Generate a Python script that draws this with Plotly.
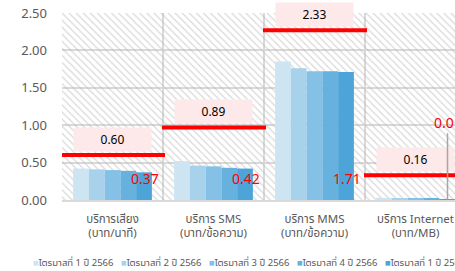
import plotly.graph_objects as go

categories = ["บริการเสียง<br>(บาท/นาที)", "บริการ SMS<br>(บาท/ข้อความ)",
              "บริการ MMS<br>(บาท/ข้อความ)", "บริการ Internet<br>(บาท/MB)"]
series_names = ["ไตรมาสที่ 1 ปี 2566", "ไตรมาสที่ 2 ปี 2566", "ไตรมาสที่ 3 ปี 2566",
                "ไตรมาสที่ 4 ปี 2566", "ไตรมาสที่ 1 ปี 2567"]
q1_2566 = [0.42, 0.52, 1.85, 0.03]
q2_2566 = [0.41, 0.46, 1.76, 0.02]
q3_2566 = [0.40, 0.45, 1.72, 0.02]
q4_2566 = [0.39, 0.43, 1.72, 0.02]
q1_2567 = [0.37, 0.42, 1.71, 0.01]
series_values = [q1_2566, q2_2566, q3_2566, q4_2566, q1_2567]
series_colors = ["#cde5f3", "#a8d1eb", "#85c1e6", "#66b1de", "#4ca4d8"]

ceiling_labels = [0.60, 0.89, 2.33, 0.16]
ceiling_lines = [0.60, 0.97, 2.27, 0.33]
y_ticks = [0, 0.5, 1.0, 1.5, 2.0, 2.5]
y_max = 2.5

font_family = "Noto Sans, Noto Sans Thai, Tahoma, sans-serif"
grey = "#595959"
xpos = list(range(len(categories)))
xrange = [-0.5, 3.391]

fig = go.Figure()

# hatched plot-area background (one cell per category)
fig.add_trace(go.Bar(
    x=xpos, y=[y_max] * len(xpos), width=1, xaxis="x", yaxis="y",
    marker=dict(color="rgba(0,0,0,0)", line=dict(width=0),
                pattern=dict(shape="\\", fgcolor="#b3b3b3", bgcolor="rgba(0,0,0,0)",
                             size=5, solidity=0.25)),
    showlegend=False, hoverinfo="skip"))

for name, vals, col in zip(series_names, series_values, series_colors):
    fig.add_trace(go.Bar(x=xpos, y=vals, name=name, marker=dict(color=col, line=dict(width=0)),
                         xaxis="x2", yaxis="y2", showlegend=False))

# red benchmark segments
lx, ly = [], []
for i, v in enumerate(ceiling_lines):
    lx += [i - 0.51, i + 0.52, None]
    ly += [v, v, None]
fig.add_trace(go.Scatter(x=lx, y=ly, mode="lines", line=dict(color="#ff0000", width=4),
                         xaxis="x2", yaxis="y2", showlegend=False, hoverinfo="skip"))

annotations = []
for i, (lab, v) in enumerate(zip(ceiling_labels, ceiling_lines)):
    annotations.append(dict(x=i, y=v, xref="x2", yref="y2", text=f"{lab:.2f}",
                            showarrow=False, yanchor="bottom", yshift=3,
                            bgcolor="#fde9e9", width=77, height=23, borderpad=0,
                            font=dict(size=12, color="#000000", family=font_family)))

# data labels for the latest quarter
bar_off = 32
for i, v in enumerate(q1_2567):
    if i < 3:
        annotations.append(dict(x=i, y=0.29, xref="x2", yref="y2", text=f"{v:.2f}",
                                showarrow=False, xshift=bar_off,
                                font=dict(size=14, color="#ff0000", family=font_family)))
    else:
        annotations.append(dict(x=i, y=v, xref="x2", yref="y2", text=f"{v:.2f}",
                                showarrow=True, arrowhead=0, arrowwidth=1.5, arrowcolor="#a6a6a6",
                                ax=0, ay=-77, xshift=bar_off, standoff=0,
                                font=dict(size=14, color="#ff0000", family=font_family)))

# legend row
for k, (name, col) in enumerate(zip(series_names, series_colors)):
    annotations.append(dict(x=(31 + 88 * k - 62) / 393, y=-0.333, xref="paper", yref="paper",
                            xanchor="left", yanchor="middle", showarrow=False,
                            text=f"<span style='color:{col}'>■</span>{name}",
                            font=dict(size=9.5, color=grey, family=font_family)))

fig.update_layout(
    width=455, height=271,
    margin=dict(l=62, r=0, t=13, b=71, autoexpand=False),
    paper_bgcolor="white", plot_bgcolor="white",
    barmode="group", bargap=0.22, bargroupgap=0,
    showlegend=False,
    font=dict(family=font_family, color=grey),
    xaxis=dict(range=xrange, tickvals=[-0.5, 0.5, 1.5, 2.5, 3.5], showticklabels=False,
               showgrid=True, gridcolor="#d9d9d9", gridwidth=2, zeroline=False,
               showline=True, linecolor="#d9d9d9", linewidth=2, ticks=""),
    yaxis=dict(range=[0, y_max], tickvals=y_ticks, tickformat=".2f",
               showgrid=True, gridcolor="#d9d9d9", gridwidth=2, zeroline=False,
               ticklabelstandoff=14, tickfont=dict(size=13, color=grey)),
    xaxis2=dict(range=xrange, overlaying="x", anchor="y2", side="bottom",
                tickvals=xpos, ticktext=categories, showgrid=False, zeroline=False,
                tickfont=dict(size=11.5, color=grey), ticks="", ticklabelstandoff=10,
                ticklabeloverflow="allow"),
    yaxis2=dict(range=[0, y_max], overlaying="y", showgrid=False, zeroline=False,
                showticklabels=False),
    annotations=annotations,
)

fig.write_html("out.html", config={"displayModeBar": False},
               post_script="document.body.style.margin='0';document.body.style.overflow='hidden';")
